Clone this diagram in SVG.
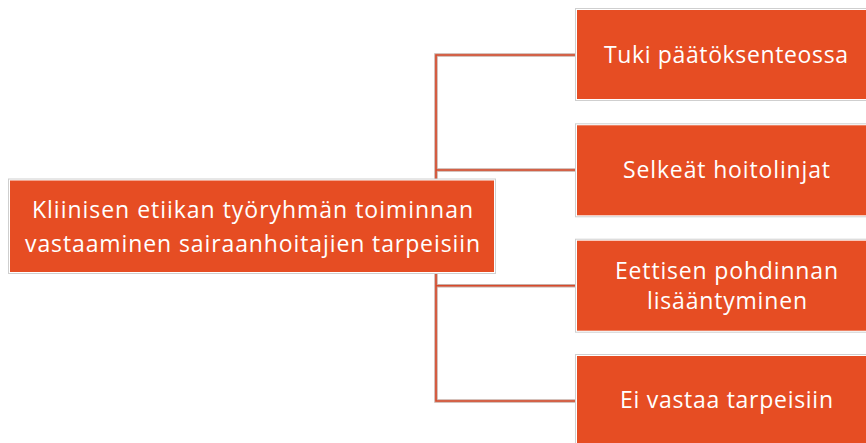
<svg xmlns="http://www.w3.org/2000/svg" width="866" height="443" viewBox="0 0 866 443">
<style>
.box{fill:#E64D23}
.frame{fill:#ffffff;stroke:#cfcfcf;stroke-width:1}
.t{font-family:"Open Sans","Noto Sans","Liberation Sans",sans-serif;font-size:23px;fill:#ffffff;text-anchor:middle}
.cOuter{fill:none;stroke:#c7aea6;stroke-width:3.5}
.cInner{fill:none;stroke:#D8492A;stroke-width:1.6}
</style>
<rect width="866" height="443" fill="#ffffff"/>
<g id="connectors">
  <path class="cOuter" d="M576 55 H436 V401 H576 M436 170 H576 M436 285.7 H576"/>
  <path class="cInner" d="M576 55 H436 V401 H576 M436 170 H576 M436 285.7 H576"/>
</g>
<g id="main">
  <rect class="frame" x="8.5" y="179" width="487" height="94.5"/>
  <rect class="box" x="10" y="180.5" width="484" height="91.5"/>
  <text class="t" x="252.5" y="218" textLength="441" lengthAdjust="spacing">Kliinisen etiikan työryhmän toiminnan</text>
  <text class="t" x="252.5" y="252" textLength="455" lengthAdjust="spacing">vastaaminen sairaanhoitajien tarpeisiin</text>
</g>
<g id="n1">
  <rect class="frame" x="575.5" y="8.5" width="292" height="92"/>
  <rect class="box" x="577" y="10" width="289" height="89"/>
  <text class="t" x="726" y="63" textLength="244" lengthAdjust="spacing">Tuki päätöksenteossa</text>
</g>
<g id="n2">
  <rect class="frame" x="575.5" y="123.8" width="292" height="93"/>
  <rect class="box" x="577" y="125.3" width="289" height="90"/>
  <text class="t" x="726.5" y="178" textLength="207" lengthAdjust="spacing">Selkeät hoitolinjat</text>
</g>
<g id="n3">
  <rect class="frame" x="575.5" y="239.2" width="292" height="93"/>
  <rect class="box" x="577" y="240.7" width="289" height="90"/>
  <text class="t" x="726.5" y="279" textLength="223" lengthAdjust="spacing">Eettisen pohdinnan</text>
  <text class="t" x="727" y="309" textLength="160" lengthAdjust="spacing">lisääntyminen</text>
</g>
<g id="n4">
  <rect class="frame" x="575.5" y="354.5" width="292" height="93"/>
  <rect class="box" x="577" y="356" width="289" height="90"/>
  <text class="t" x="726.5" y="408" textLength="213" lengthAdjust="spacing">Ei vastaa tarpeisiin</text>
</g>
</svg>
